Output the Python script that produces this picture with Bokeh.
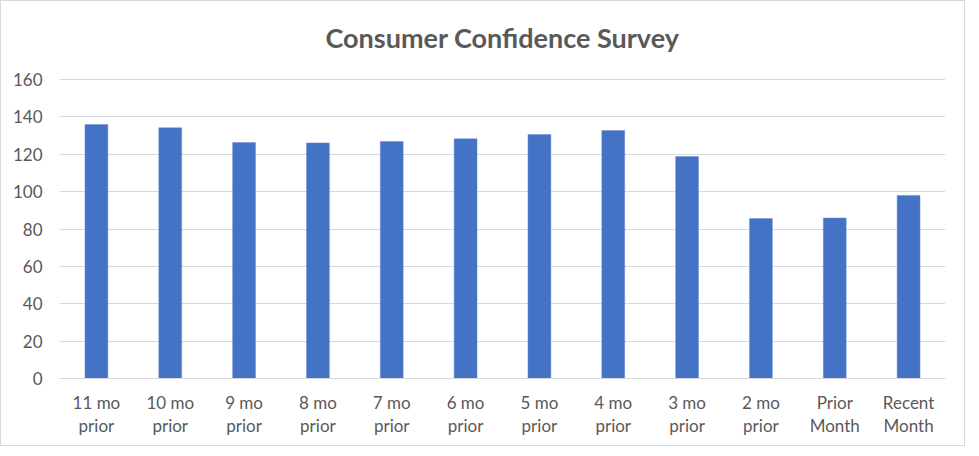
from bokeh.plotting import figure
from bokeh.embed import file_html
from bokeh.resources import INLINE
from bokeh.models import Range1d, FixedTicker, Label

title_text = "Consumer Confidence Survey"
categories = ["11 mo\nprior", "10 mo\nprior", "9 mo\nprior", "8 mo\nprior", "7 mo\nprior",
              "6 mo\nprior", "5 mo\nprior", "4 mo\nprior", "3 mo\nprior", "2 mo\nprior",
              "Prior\nMonth", "Recent\nMonth"]
values = [135.9, 134.2, 126.3, 126.1, 126.8, 128.3, 130.6, 132.7, 118.8, 85.6, 85.9, 98.0]
y_ticks = [0, 20, 40, 60, 80, 100, 120, 140, 160]

FONT = "Lato"
GRAY = "#595959"

# extra headroom above the 160 gridline holds the chart title
Y_TOP = 197.5
TITLE_Y = 182.5

p = figure(x_range=categories, width=965, height=446, output_backend="svg",
           toolbar_location=None, min_border_left=58, min_border_right=21,
           min_border_top=8, min_border_bottom=69)
p.styles = {"border": "1px solid #d9d9d9"}

p.vbar(x=categories, top=values, width=0.31, fill_color="#4472C4", line_color="#6a8fd6", line_width=0.5)

p.y_range = Range1d(0, Y_TOP)
p.add_layout(Label(x=len(categories) / 2, y=TITLE_Y, text=title_text, text_align="center",
                   text_baseline="middle", text_font=FONT, text_font_size="27px",
                   text_font_style="bold", text_color=GRAY))

p.yaxis.ticker = FixedTicker(ticks=y_ticks)
p.yaxis.axis_line_color = None
p.yaxis.major_tick_line_color = None
p.yaxis.minor_tick_line_color = None
p.yaxis.major_label_standoff = 11
p.xaxis.axis_line_color = "#d9d9d9"
p.xaxis.major_tick_line_color = None
p.xaxis.minor_tick_line_color = None
p.xaxis.major_label_standoff = 7
for ax in (p.xaxis, p.yaxis):
    ax.major_label_text_font = FONT
    ax.major_label_text_font_size = "17px"
    ax.major_label_text_color = GRAY
p.xaxis.major_label_text_line_height = 1.1

p.xgrid.grid_line_color = None
p.ygrid.grid_line_color = "#d9d9d9"
p.outline_line_color = None

open("out.html", "w").write(file_html(p, INLINE))
